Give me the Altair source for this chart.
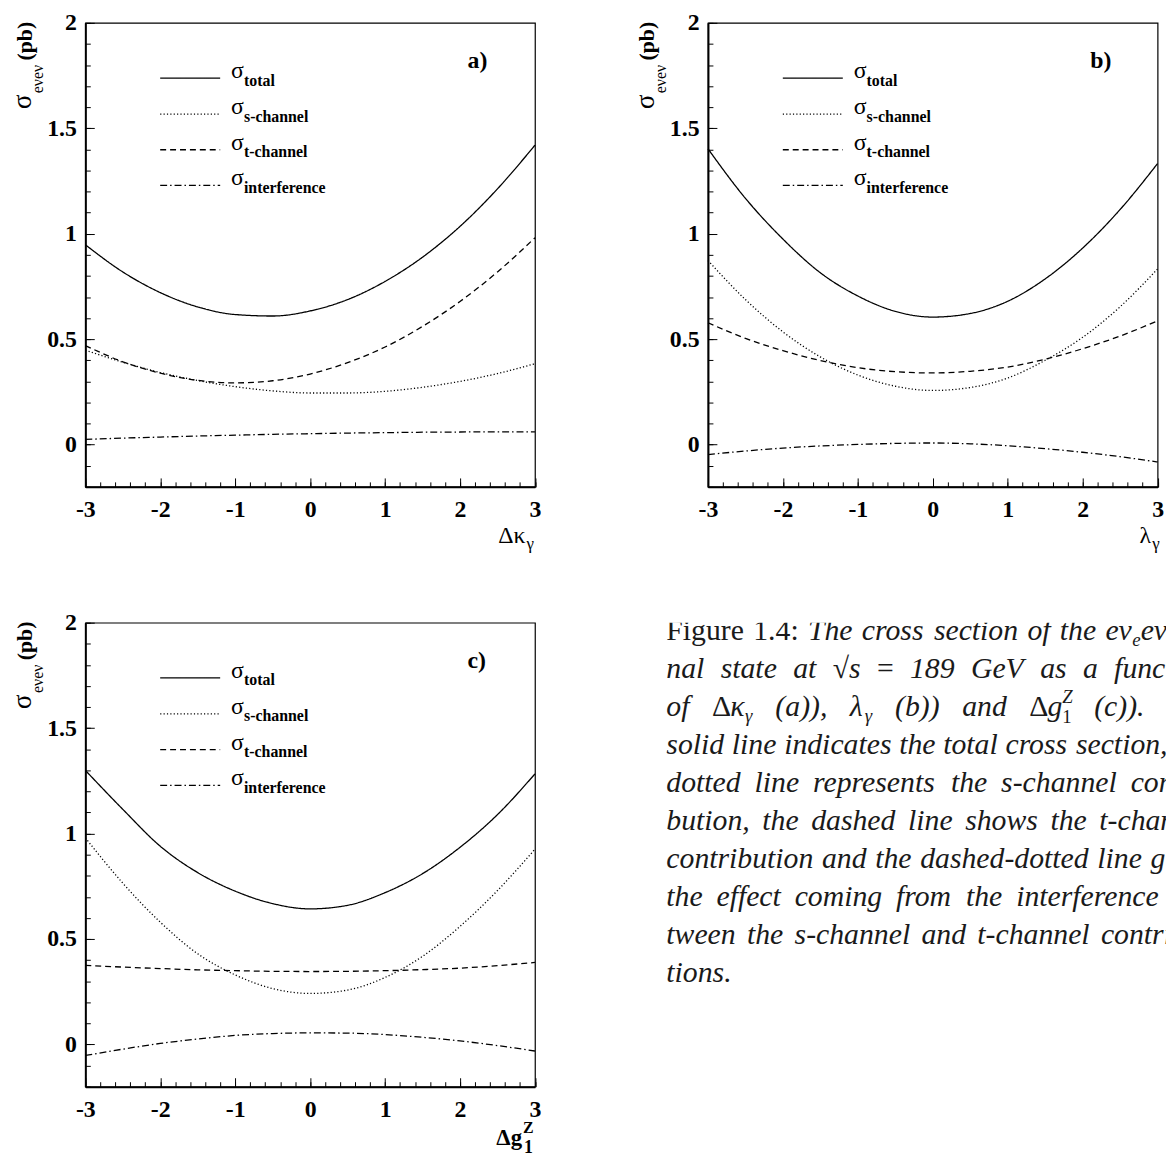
import altair as alt
import pandas as pd

SERIF = "Liberation Serif"

# ---------------- data ----------------
X_VALUES = [-3.0, -2.5, -2.0, -1.5, -1.0, -0.5, 0.0, 0.5, 1.0, 1.5, 2.0, 2.5, 3.0]
SERIES = ["total", "s-channel", "t-channel", "interference"]

# panel a) : Delta kappa_gamma
A_TOTAL = [0.948, 0.819, 0.721, 0.653, 0.617, 0.610, 0.634, 0.688, 0.774, 0.889, 1.035, 1.213, 1.420]
A_SCHAN = [0.448, 0.391, 0.342, 0.304, 0.275, 0.255, 0.245, 0.245, 0.253, 0.272, 0.300, 0.337, 0.384]
A_TCHAN = [0.470, 0.393, 0.339, 0.305, 0.293, 0.303, 0.335, 0.389, 0.463, 0.561, 0.679, 0.819, 0.981]
A_INTER = [0.025, 0.031, 0.036, 0.041, 0.045, 0.049, 0.052, 0.055, 0.057, 0.059, 0.060, 0.061, 0.061]

# panel b) : lambda_gamma
B_TOTAL = [1.403, 1.168, 0.975, 0.815, 0.705, 0.632, 0.605, 0.622, 0.680, 0.786, 0.932, 1.115, 1.333]
B_SCHAN = [0.873, 0.688, 0.535, 0.416, 0.330, 0.277, 0.257, 0.271, 0.316, 0.400, 0.509, 0.654, 0.833]
B_TCHAN = [0.578, 0.504, 0.446, 0.399, 0.365, 0.346, 0.340, 0.348, 0.368, 0.405, 0.455, 0.515, 0.587]
B_INTER = [-0.047, -0.030, -0.016, -0.006, 0.001, 0.006, 0.008, 0.004, -0.005, -0.019, -0.036, -0.057, -0.082]

# panel c) : Delta g1Z
C_TOTAL = [1.300, 1.115, 0.940, 0.815, 0.727, 0.668, 0.643, 0.660, 0.720, 0.810, 0.935, 1.090, 1.283]
C_SCHAN = [0.980, 0.765, 0.580, 0.430, 0.330, 0.265, 0.242, 0.258, 0.318, 0.418, 0.560, 0.730, 0.926]
C_TCHAN = [0.375, 0.367, 0.360, 0.354, 0.350, 0.347, 0.346, 0.347, 0.350, 0.355, 0.362, 0.374, 0.389]
C_INTER = [-0.052, -0.022, 0.005, 0.026, 0.043, 0.052, 0.055, 0.054, 0.047, 0.034, 0.017, -0.005, -0.031]

X_MAJOR = [-3, -2, -1, 0, 1, 2, 3]
X_MINOR = [round(-3 + 0.2 * k, 1) for k in range(31)]
Y_MAJOR = [0, 0.5, 1, 1.5, 2]
Y_MINOR = [round(-0.2 + 0.1 * k, 1) for k in range(23)]

CAPTION_LINES_PLAIN = [
    "solid line indicates the total cross section, the",
    "dotted line represents the s-channel contri-",
    "bution, the dashed line shows the t-channel",
    "contribution and the dashed-dotted line gives",
    "the effect coming from the interference be-",
    "tween the s-channel and t-channel contribu-",
    "tions.",
]

# ---------------- styling / layout ----------------
W, H = 453.5, 468
DASHES = [[1, 0], [1.2, 2.2], [6, 4], [7, 3, 1.5, 3]]
XS = alt.Scale(domain=[-3, 3], nice=False, zero=False)
YS = alt.Scale(domain=[-0.2, 2], nice=False, zero=False)
ONE = pd.DataFrame({"k": [0]})


def txt(text, x, y, size, weight="normal", align="left", angle=0, style="normal"):
    return alt.Chart(ONE).mark_text(
        text=text, font=SERIF, fontSize=size, fontWeight=weight, fontStyle=style,
        align=align, baseline="alphabetic", angle=angle, color="black",
    ).encode(x=alt.value(x), y=alt.value(y))


def tick_layer(base, xv, yv, size):
    return base.mark_point(opacity=0).encode(
        x=alt.X("x:Q", scale=XS, axis=alt.Axis(
            orient="top", offset=-H, values=xv, labels=False, domain=False,
            ticks=True, tickSize=size, tickColor="black", tickWidth=1, grid=False, title=None)),
        y=alt.Y("y:Q", scale=YS, axis=alt.Axis(
            orient="right", offset=-W, values=yv, labels=False, domain=False,
            ticks=True, tickSize=size, tickColor="black", tickWidth=1, grid=False, title=None)),
    )


def panel(total, schan, tchan, inter, tag, xtitle):
    df = pd.DataFrame({
        "x": X_VALUES * 4,
        "y": total + schan + tchan + inter,
        "series": sum([[n] * len(X_VALUES) for n in SERIES], []),
    })
    base = alt.Chart(df)
    lab = dict(labelExpr="'' + datum.value", labelFont=SERIF, labelFontSize=24,
               labelFontWeight="bold", labelColor="black", labelFlush=False,
               labelOverlap=False, ticks=False, tickSize=0, domain=True,
               domainColor="black", domainWidth=2, grid=False, title=None)
    lines = base.mark_line(color="black", strokeWidth=1.3, interpolate="monotone").encode(
        x=alt.X("x:Q", scale=XS, axis=alt.Axis(orient="bottom", values=X_MAJOR, labelPadding=11, **lab)),
        y=alt.Y("y:Q", scale=YS, axis=alt.Axis(orient="left", values=Y_MAJOR, labelPadding=9, **lab)),
        strokeDash=alt.StrokeDash("series:N", scale=alt.Scale(domain=SERIES, range=DASHES), legend=None),
    )
    layers = [lines, tick_layer(base, X_MAJOR, Y_MAJOR, 9), tick_layer(base, X_MINOR, Y_MINOR, 5)]

    # legend drawn inside the frame (ROOT style)
    rows = [55.7, 92, 128, 164]
    for name, dash, ry in zip(SERIES, DASHES, rows):
        layers.append(alt.Chart(ONE).mark_rule(color="black", strokeWidth=1.3, strokeDash=dash).encode(
            x=alt.value(75.5), x2=alt.value(136), y=alt.value(ry)))
        layers.append(txt("σ", 147, ry, 24))
        layers.append(txt(name, 160, ry + 7.5, 16, weight="bold"))

    layers.append(txt(tag, 385.5, 46, 24, weight="bold"))

    # y-axis title  sigma_{e nu e nu} (pb)
    layers.append(txt("σ", -54.5, 87, 27, angle=270))
    layers.append(txt("eνeν", -42.5, 71, 16, angle=270))
    layers.append(txt("(pb)", -54, 38, 22, weight="bold", angle=270))

    layers += xtitle
    return alt.layer(*layers).resolve_axis(x="independent", y="independent").properties(width=W, height=H)


XT_A = [txt("Δκ", 444, 525, 24, align="right"), txt("γ", 445, 531, 17)]
XT_B = [txt("λ", 447, 525, 24, align="right"), txt("γ", 448, 531, 17)]
XT_C = [txt("Δg", 440.5, 527, 23, weight="bold", align="right"),
        txt("Z", 441.5, 515, 16, weight="bold"),
        txt("1", 442.5, 535, 18, weight="bold")]

pa = panel(A_TOTAL, A_SCHAN, A_TCHAN, A_INTER, "a)", XT_A)
pb = panel(B_TOTAL, B_SCHAN, B_TCHAN, B_INTER, "b)", XT_B)
pc = panel(C_TOTAL, C_SCHAN, C_TCHAN, C_INTER, "c)", XT_C)

# ---------------- caption (justified text, clipped at page edge) ----------------
TI = dict(zip("abcdefghijklmnopqrstuvwxyz",
              [500, 500, 444, 500, 444, 278, 500, 500, 278, 278, 444, 278, 722,
               500, 500, 500, 500, 389, 389, 278, 500, 444, 667, 444, 444, 389]))
TI.update({" ": 250, ".": 250, ",": 250, ":": 333, "(": 333, ")": 333, "-": 333,
           "T": 556, "G": 722, "V": 611, "Z": 556, "ν": 460, "κ": 500, "γ": 420, "λ": 500})
TR = {"F": 556, "i": 278, "g": 500, "u": 500, "r": 333, "e": 444, ".": 250, ":": 278,
      "=": 564, "Δ": 612, "√": 549}
NS, SS = 30, 19


def tw(s, style, size):
    tab = TI if style == "I" else TR
    return sum(tab.get(ch, 500) for ch in s) * size / 1000.0


def plain(s):
    return [[(wd, "I", NS, 0, True)] for wd in s.split()]


LINES = [
    [[("Figure", "R", NS, 0, True)], [("1.4:", "R", NS, 0, True)]] + plain("The cross section of the")
    + [[("eν", "I", NS, 0, True), ("e", "I", SS, 7, True), ("eν", "I", NS, 0, True), ("e", "I", SS, 7, True)],
       [("fi-", "I", NS, 0, True)]],
    plain("nal state at") + [[("√", "R", NS, 0, True), ("s", "I", NS, 0, True)], [("=", "R", NS, 0, True)]]
    + plain("189 GeV as a function"),
    plain("of") + [[("Δ", "R", NS, 0, True), ("κ", "I", NS, 0, True), ("γ", "I", SS, 7, True)]]
    + plain("(a)),") + [[("λ", "I", NS, 0, True), ("γ", "I", SS, 7, True)]] + plain("(b)) and")
    + [[("Δ", "R", NS, 0, True), ("g", "I", NS, 0, True), ("Z", "I", SS, -13, False), ("1", "R", SS, 8, True)]]
    + plain("(c)). The"),
] + [plain(s) for s in CAPTION_LINES_PLAIN]

CAP_W = 504
JUST_W = 550
rows = []
for k, line in enumerate(LINES):
    widths = [sum(tw(t, st, sz) for (t, st, sz, dy, adv) in word if adv) for word in line]
    gap = (JUST_W - sum(widths)) / (len(line) - 1) if k < len(LINES) - 1 else 0.25 * NS
    x = 0.0
    y = 17 + k * 38.33
    for word, ww in zip(line, widths):
        if x > CAP_W:
            break
        px = x
        for (t, st, sz, dy, adv) in word:
            rows.append({"px": px, "py": y + dy, "text": t, "style": st, "size": sz})
            if adv:
                px += tw(t, st, sz)
        x += ww + gap
cap_df = pd.DataFrame(rows)


def cap_layer(df, style):
    return alt.Chart(df).mark_text(
        font=SERIF, fontStyle=style, align="left", baseline="alphabetic", clip=True, color="#1a1a1a"
    ).encode(
        x=alt.X("px:Q", scale=None, axis=None),
        y=alt.Y("py:Q", scale=None, axis=None),
        text="text:N",
        size=alt.Size("size:Q", scale=None, legend=None),
    )


cap = alt.layer(
    cap_layer(cap_df[cap_df["style"] == "R"], "normal"),
    cap_layer(cap_df[cap_df["style"] == "I"], "italic"),
).properties(width=CAP_W, height=H, view=alt.ViewBackground(stroke="transparent"))

top = alt.hconcat(pa, pb, spacing=174, bounds="flush")
bottom = alt.hconcat(pc, cap, spacing=132, bounds="flush")
chart = alt.vconcat(top, bottom, spacing=57).properties(
    padding={"left": 0, "top": -3, "right": 0, "bottom": 0}, background="white"
).configure_view(stroke="black", strokeWidth=1.2)

chart.save("out.html", embed_options={"renderer": "svg", "actions": False})
